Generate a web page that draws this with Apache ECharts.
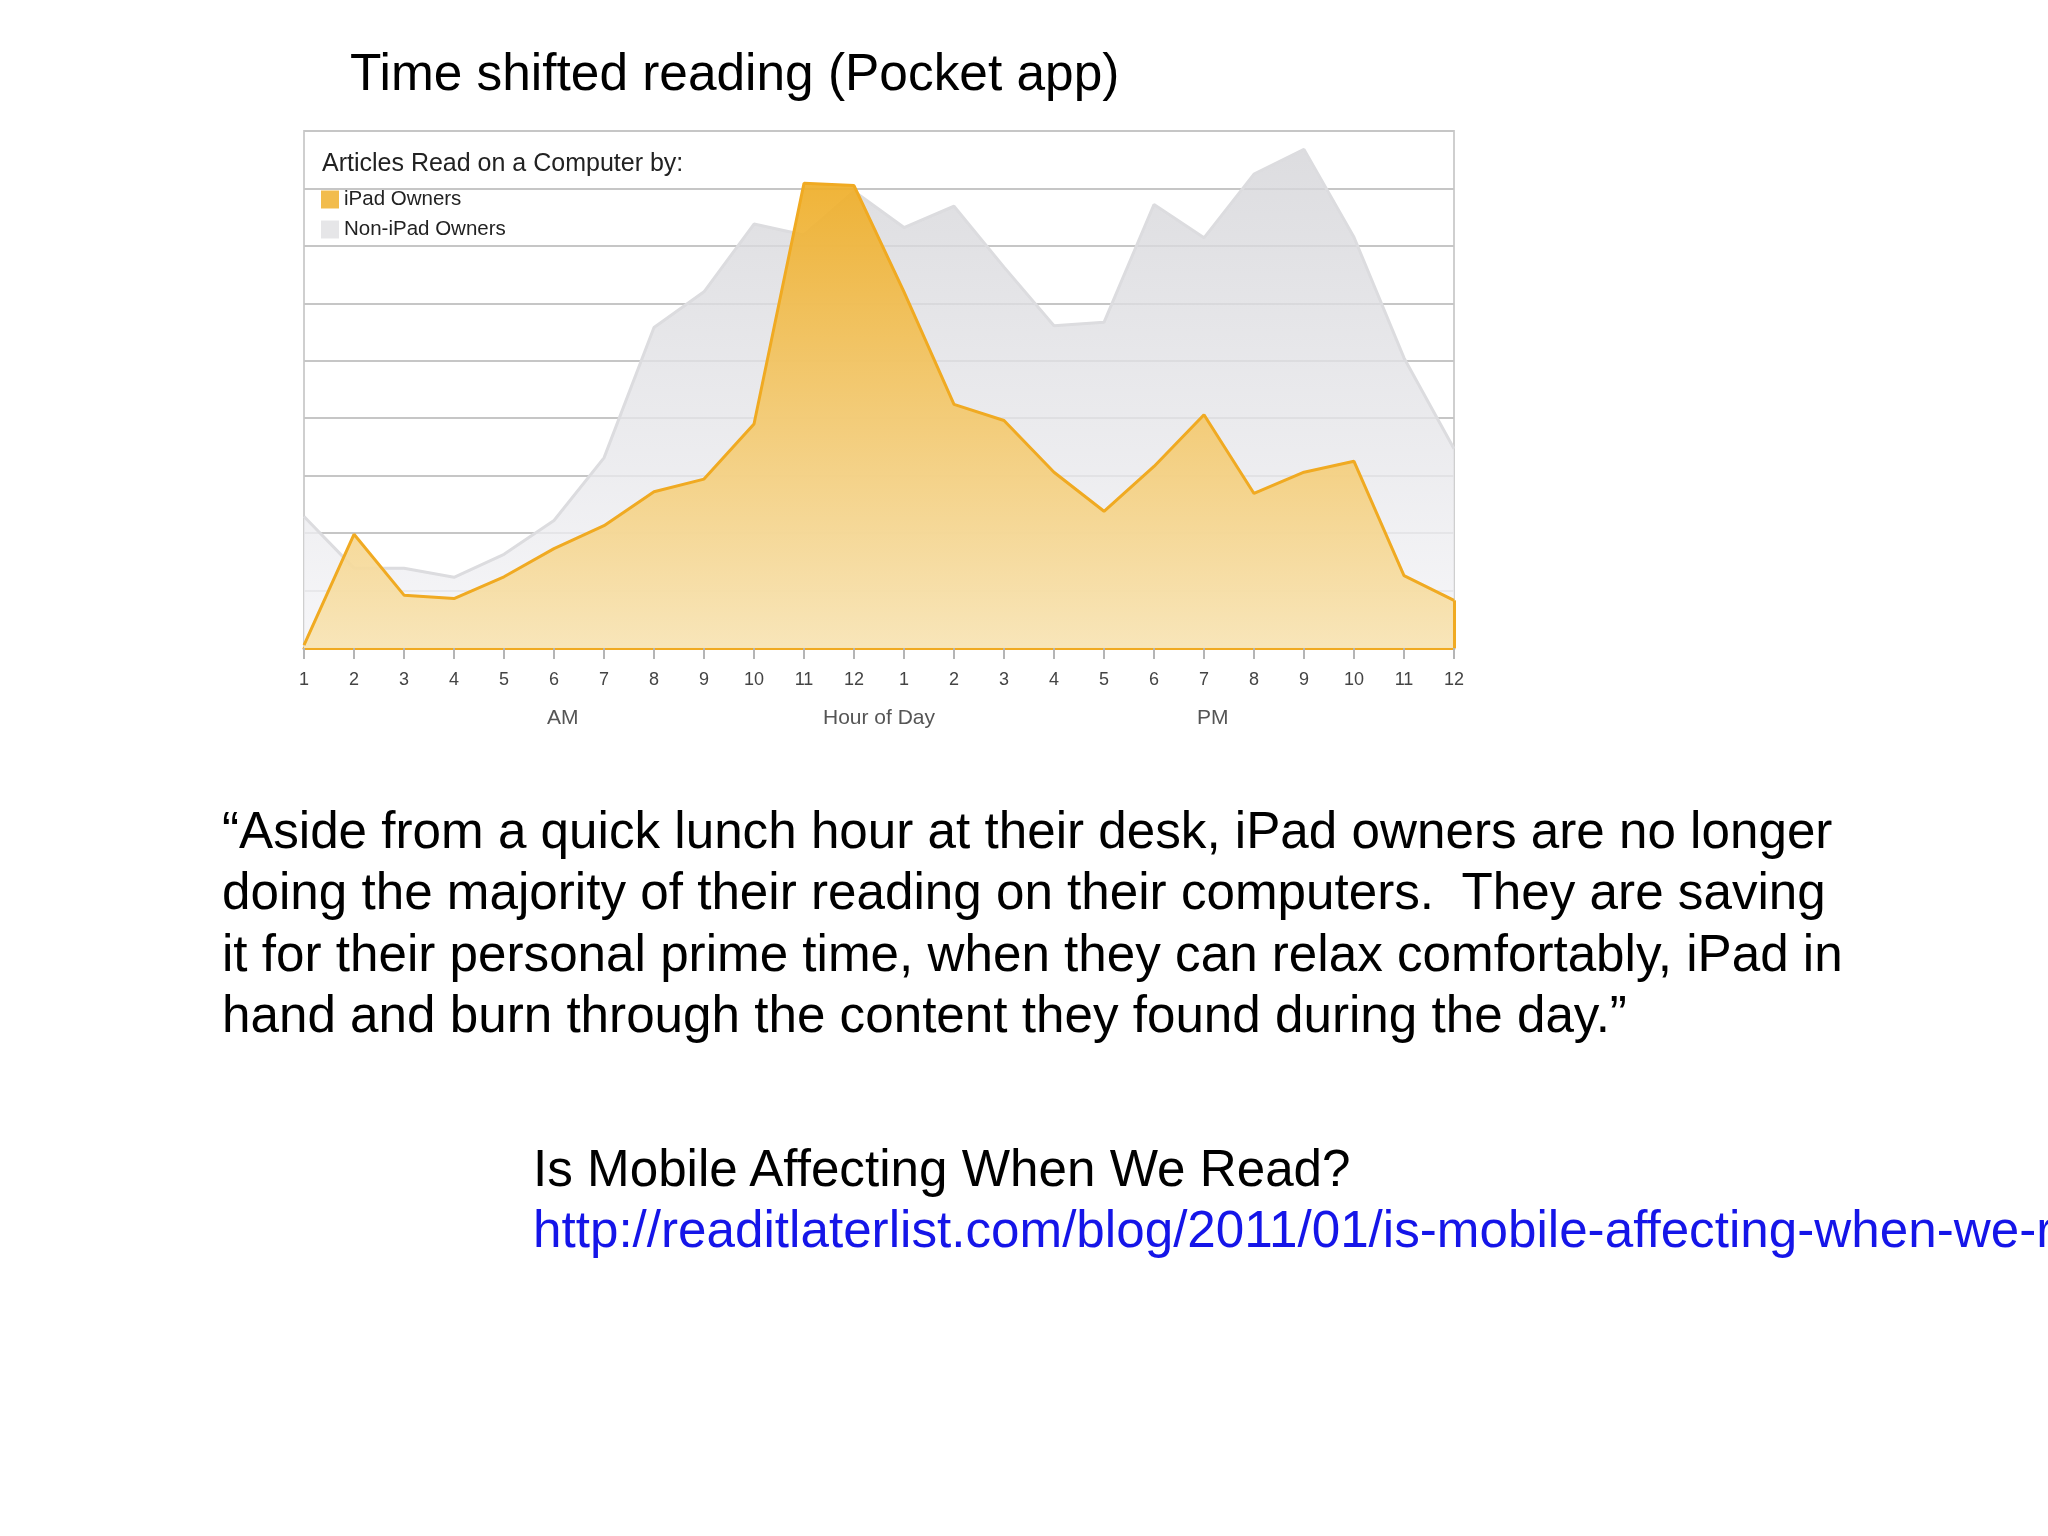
<!DOCTYPE html>
<html>
<head>
<meta charset="utf-8">
<title>Time shifted reading (Pocket app)</title>
<script src="https://cdn.jsdelivr.net/npm/echarts@6/dist/echarts.min.js"></script>
<style>
    html, body {
        margin: 0;
        padding: 0;
        width: 2048px;
        height: 1536px;
        overflow: hidden;
        background: #fff;
        font-family: "Liberation Sans", Arial, sans-serif;
    }
    #chart {
        position: absolute;
        left: 0;
        top: 0;
        width: 2048px;
        height: 1536px;
    }
    .txt {
        position: absolute;
        color: #000;
        white-space: nowrap;
    }
    #title {
        left: 350px;
        top: 41px;
        font-size: 51.4px;
        line-height: 62px;
    }
    #quote {
        left: 222px;
        top: 800px;
        font-size: 51.2px;
        line-height: 61.4px;
    }
    #source {
        left: 533px;
        top: 1138px;
        font-size: 51.2px;
        line-height: 61.4px;
    }
    #source a {
        color: #1515e8;
        text-decoration: none;
    }
</style>
</head>
<body>
<div id="chart"></div>
<div class="txt" id="title">Time shifted reading (Pocket app)</div>
<div class="txt" id="quote">“Aside from a quick lunch hour at their desk, iPad owners are no longer<br>doing the majority of their reading on their computers.&nbsp; They are saving<br>it for their personal prime time, when they can relax comfortably, iPad in<br>hand and burn through the content they found during the day.”</div>
<div class="txt" id="source">Is Mobile Affecting When We Read?<br><a href="http://readitlaterlist.com/blog/2011/01/is-mobile-affecting-when-we-read/">http://readitlaterlist.com/blog/2011/01/is-mobile-affecting-when-we-read/</a></div>
<script>
// hour of day, 1 AM .. 12 PM
var hours = ['1', '2', '3', '4', '5', '6', '7', '8', '9', '10', '11', '12',
             '1', '2', '3', '4', '5', '6', '7', '8', '9', '10', '11', '12'];

// articles read on a computer (relative units)
var ipadOwners = [0.05, 1.98, 0.92, 0.86, 1.24, 1.73, 2.13, 2.72, 2.94, 3.90, 8.09, 8.05,
                  6.20, 4.24, 3.96, 3.06, 2.38, 3.16, 4.06, 2.69, 3.06, 3.25, 1.26, 0.83];
var nonIpadOwners = [2.29, 1.39, 1.39, 1.23, 1.63, 2.22, 3.31, 5.58, 6.20, 7.38, 7.19, 7.95,
                     7.32, 7.69, 6.63, 5.61, 5.67, 7.72, 7.14, 8.25, 8.68, 7.15, 5.05, 3.47];

var seriesNames = ['iPad Owners', 'Non-iPad Owners'];

var lastIdx = hours.length - 1;

var option = {
    animation: false,
    textStyle: {
        fontFamily: '"Liberation Sans", Arial, sans-serif'
    },
    title: {
        text: 'Articles Read on a Computer by:',
        left: 322,
        top: 152,
        padding: 0,
        textStyle: {
            fontSize: 25,
            fontWeight: 'normal',
            color: '#222'
        }
    },
    legend: {
        data: seriesNames,
        orient: 'vertical',
        left: 321,
        top: 189,
        padding: 0,
        itemWidth: 18,
        itemHeight: 18,
        itemGap: 9,
        icon: 'rect',
        textStyle: {
            fontSize: 20.5,
            color: '#222'
        }
    },
    grid: {
        left: 304,
        top: 131,
        right: 594,
        bottom: 888,
        show: true,
        borderColor: '#cfcfcf',
        borderWidth: 2,
        backgroundColor: 'transparent'
    },
    xAxis: {
        type: 'category',
        data: hours,
        boundaryGap: false,
        axisLine: {
            show: true,
            lineStyle: {color: '#f0aa22', width: 3}
        },
        axisTick: {
            show: true,
            length: 11,
            lineStyle: {color: '#b5b5b5', width: 2}
        },
        axisLabel: {
            interval: 0,
            margin: 23,
            fontSize: 18,
            color: '#444'
        },
        name: 'Hour of Day',
        nameLocation: 'middle',
        nameGap: 60,
        nameTextStyle: {
            fontSize: 21,
            color: '#555'
        }
    },
    yAxis: {
        type: 'value',
        min: 0,
        max: 9,
        interval: 1,
        axisLine: {show: false},
        axisTick: {show: false},
        axisLabel: {show: false},
        splitLine: {
            show: true,
            lineStyle: {color: '#c6c6c6', width: 2}
        }
    },
    graphic: [
        {
            type: 'text',
            left: 547,
            top: 708,
            style: {
                text: 'AM',
                fontSize: 21,
                fill: '#555',
                fontFamily: '"Liberation Sans", Arial, sans-serif'
            }
        },
        {
            type: 'text',
            left: 1197,
            top: 708,
            style: {
                text: 'PM',
                fontSize: 21,
                fill: '#555',
                fontFamily: '"Liberation Sans", Arial, sans-serif'
            }
        }
    ],
    series: [
        {
            name: seriesNames[1],
            type: 'line',
            data: nonIpadOwners,
            symbol: 'none',
            z: 1,
            itemStyle: {color: '#e6e6e8'},
            lineStyle: {color: '#dcdcdf', width: 3},
            areaStyle: {
                opacity: 0.8,
                color: {
                    type: 'linear', x: 0, y: 0, x2: 0, y2: 1,
                    colorStops: [
                        {offset: 0, color: 'rgb(212,212,216)'},
                        {offset: 1, color: 'rgb(244,244,247)'}
                    ]
                }
            }
        },
        {
            name: seriesNames[0],
            type: 'line',
            data: ipadOwners,
            symbol: 'none',
            z: 3,
            itemStyle: {color: '#f2bc4c'},
            lineStyle: {color: '#f0aa22', width: 3},
            areaStyle: {
                opacity: 0.92,
                color: {
                    type: 'linear', x: 0, y: 0, x2: 0, y2: 1,
                    colorStops: [
                        {offset: 0, color: 'rgb(239,174,40)'},
                        {offset: 1, color: 'rgb(248,228,180)'}
                    ]
                }
            },
            markLine: {
                silent: true,
                symbol: 'none',
                label: {show: false},
                lineStyle: {color: '#f0aa22', width: 3, type: 'solid'},
                data: [
                    [{coord: [lastIdx, 0]}, {coord: [lastIdx, ipadOwners[lastIdx]]}]
                ]
            }
        }
    ]
};

var chart = echarts.init(document.getElementById('chart'));
chart.setOption(option);
</script>
</body>
</html>
